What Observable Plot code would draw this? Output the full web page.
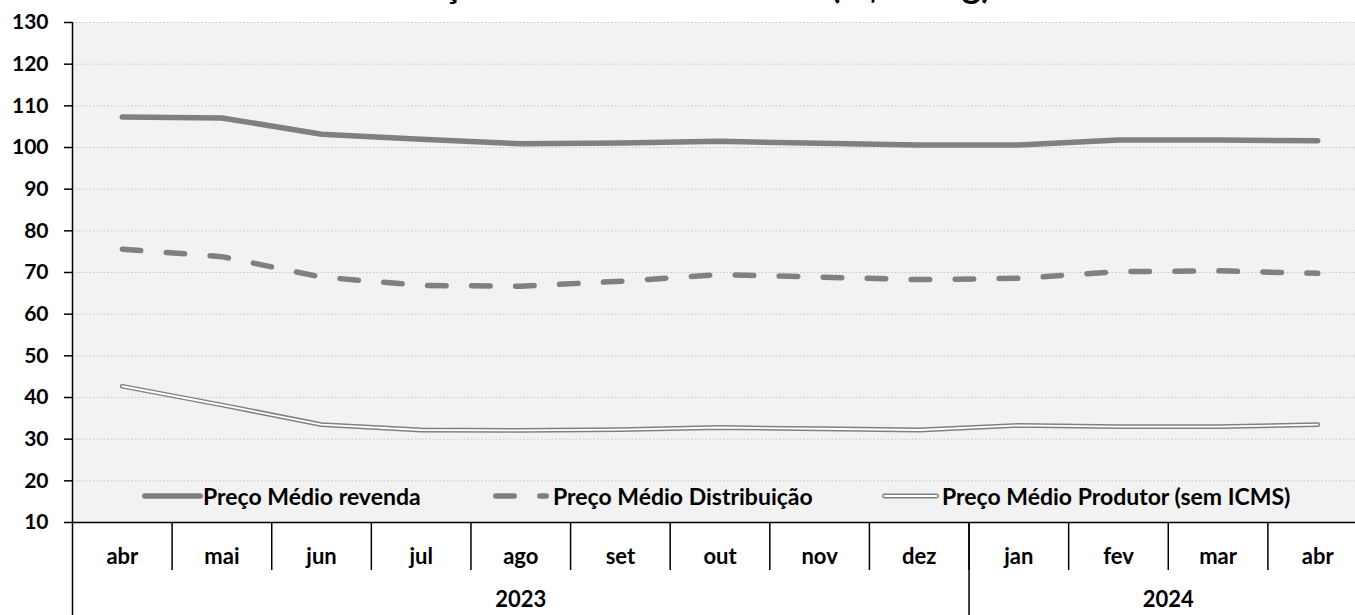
<!DOCTYPE html>
<html><head><meta charset="utf-8">
<script src="https://cdn.jsdelivr.net/npm/d3@7"></script>
<script src="https://cdn.jsdelivr.net/npm/@observablehq/plot@0.6"></script>
<style>
html,body{margin:0;padding:0;background:#fff;overflow:hidden;width:1355px;height:615px;}
#wrap{position:relative;width:1355px;height:615px;overflow:hidden;font-family:Lato,sans-serif;}
#title{position:absolute;left:0;width:1380px;top:-34px;text-align:center;font-weight:bold;font-size:36px;line-height:36px;color:#000;white-space:nowrap;}
#chart{position:absolute;left:0;top:0;width:1367px;}
#chart svg{max-width:none !important;}
.leg{position:absolute;top:483px;display:flex;align-items:center;font-weight:bold;font-size:23px;color:#000;white-space:nowrap;height:26px;}
.leg svg{display:block;}
</style>
</head><body>
<div id="wrap">
  <div id="chart"></div>
  <div id="title">Preços Médios do GLP P13 (R$/13kg)</div>
  <div id="legend"></div>
</div>
<script>
const months = ["abr","mai","jun","jul","ago","set","out","nov","dez","jan","fev","mar","abr"];
const years = ["2023","2024"];
const yearFirst = [0, 9];
const yearLast = [8, 12];
const revenda = [107.3, 107.1, 103.2, 102.0, 100.9, 101.1, 101.5, 101.0, 100.6, 100.6, 101.8, 101.8, 101.6];
const distribuicao = [75.6, 73.8, 68.9, 66.9, 66.7, 67.9, 69.5, 68.9, 68.3, 68.6, 70.2, 70.4, 69.8];
const produtor = [42.7, 38.2, 33.5, 32.2, 32.1, 32.3, 32.8, 32.5, 32.2, 33.3, 33.0, 33.0, 33.5];
const yTicks = [10, 20, 30, 40, 50, 60, 70, 80, 90, 100, 110, 120, 130];
const seriesNames = ["Preço Médio revenda", "Preço Médio Distribuição", "Preço Médio Produtor (sem ICMS)"];

const gray = "#808080";
const idx = months.map((_, i) => i);
const monthBounds = months.slice(1).map((_, i) => i + 0.5);
const yearBounds = yearFirst.map(f => f - 0.5);

const chart = Plot.plot({
  width: 1367,
  height: 615,
  marginLeft: 72,
  marginRight: 0,
  marginTop: 22,
  marginBottom: 93,
  style: {fontFamily: "Lato, sans-serif", color: "#000", background: "transparent", overflow: "visible", maxWidth: "none"},
  x: {type: "linear", domain: [-0.5, months.length - 0.5], axis: null},
  y: {domain: [yTicks[0], yTicks[yTicks.length - 1]], axis: null},
  marks: [
    Plot.frame({fill: "#f2f2f2", stroke: "none"}),
    Plot.gridY(yTicks, {stroke: "#c6c6c6", strokeOpacity: 1, strokeDasharray: "1.5,2"}),
    Plot.ruleX([-0.5], {stroke: "#000", strokeWidth: 1.5}),
    Plot.axisY(yTicks, {tickSize: 8, tickPadding: 16, fontSize: 21, fontWeight: "bold", stroke: "#000", strokeWidth: 1.5, tickFormat: d => String(d), label: null}),
    Plot.axisX(monthBounds, {tickSize: 48, tickFormat: () => "", stroke: "#000", strokeWidth: 1.5, label: null}),
    Plot.axisX(yearBounds, {tickSize: 93, tickFormat: () => "", stroke: "#000", strokeWidth: 1.5, label: null}),
    Plot.axisX(idx, {tickSize: 0, tickPadding: 26, tickFormat: i => months[i], fontSize: 22, fontWeight: "bold", label: null}),
    Plot.text(years, {x: (d, i) => (yearFirst[i] + yearLast[i]) / 2, frameAnchor: "bottom", dy: 84, text: d => d, fontSize: 22, fontWeight: "bold", fill: "#000"}),
    Plot.ruleY([yTicks[0]], {stroke: "#000", strokeWidth: 1.5}),
    Plot.line(revenda, {x: (d, i) => i, y: d => d, stroke: gray, strokeWidth: 5.5, strokeLinecap: "round", strokeLinejoin: "round"}),
    Plot.line(distribuicao, {x: (d, i) => i, y: d => d, stroke: gray, strokeWidth: 5.5, strokeLinecap: "round", strokeLinejoin: "round", strokeDasharray: "18.5,25.5"}),
    Plot.line(produtor, {x: (d, i) => i, y: d => d, stroke: gray, strokeWidth: 4.8, strokeLinecap: "round", strokeLinejoin: "round"}),
    Plot.line(produtor, {x: (d, i) => i, y: d => d, stroke: "#fff", strokeWidth: 1.8, strokeLinecap: "round", strokeLinejoin: "round"})
  ]
});
document.getElementById("chart").appendChild(chart);

// legend (HTML overlay inside the plot area)
const legend = document.getElementById("legend");
const legLeft = [142, 493, 882];
const swatch = [
  `<svg width="61" height="12"><line x1="2.75" y1="6" x2="58.25" y2="6" stroke="${gray}" stroke-width="5.5" stroke-linecap="round"/></svg>`,
  `<svg width="60" height="12"><line x1="2.75" y1="6" x2="53.25" y2="6" stroke="${gray}" stroke-width="5.5" stroke-linecap="round" stroke-dasharray="18.5,25.5"/></svg>`,
  `<svg width="60" height="12"><line x1="2.5" y1="6" x2="54.5" y2="6" stroke="${gray}" stroke-width="4.8" stroke-linecap="round"/><line x1="2.5" y1="6" x2="54.5" y2="6" stroke="#fff" stroke-width="1.8" stroke-linecap="round"/></svg>`
];
seriesNames.forEach((name, i) => {
  const d = document.createElement("div");
  d.className = "leg";
  d.style.left = legLeft[i] + "px";
  d.innerHTML = swatch[i] + `<span>${name}</span>`;
  legend.appendChild(d);
});
</script>
</body></html>
